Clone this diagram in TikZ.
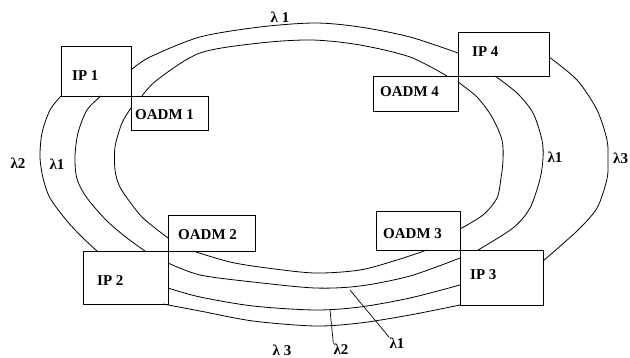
\documentclass[tikz,border=0pt]{standalone}
\usepackage{fontspec}
\setmainfont{Liberation Serif}
\usetikzlibrary{calc}
\begin{document}
\begin{tikzpicture}[x=1pt,y=-1pt,
  unit/.style={draw, line width=0.9pt, inner sep=0pt, outer sep=0pt},
  lbl/.style={font=\fontsize{15}{15}\selectfont\bfseries, inner sep=0pt},
  fibre/.style={line width=0.8pt},
  leader/.style={line width=0.7pt}]
  \fill[white] (0,0) rectangle (630,358);
  \useasboundingbox (0,0) rectangle (630,358);
  \begin{scope}
  \clip (0,0) rectangle (630,358);

  % IP routers and optical add/drop multiplexers
  \node[unit, minimum width=70pt, minimum height=50pt] (ip1) at (96,71) {};
  \node[unit, minimum width=77pt, minimum height=34pt] (oadm1) at (169.5,113) {};
  \node[unit, minimum width=91pt, minimum height=44pt] (ip4) at (503.5,54) {};
  \node[unit, minimum width=85pt, minimum height=35pt] (oadm4) at (415.5,93.5) {};
  \node[unit, minimum width=85pt, minimum height=53pt] (ip2) at (125.5,277.5) {};
  \node[unit, minimum width=87pt, minimum height=36pt] (oadm2) at (211.5,233) {};
  \node[unit, minimum width=84pt, minimum height=39pt] (oadm3) at (418,230.5) {};
  \node[unit, minimum width=83pt, minimum height=55pt] (ip3) at (501.5,277.5) {};

  \node[lbl, anchor=west] (t1) at (72,76) {IP 1};
  \node[lbl, anchor=west] (t2) at (135,115) {OADM 1};
  \node[lbl, anchor=west] (t3) at (472,51.5) {IP 4};
  \node[lbl, anchor=west] (t4) at (380,92) {OADM 4};
  \node[lbl, anchor=west] (t5) at (97,281) {IP 2};
  \node[lbl, anchor=west] (t6) at (178,235) {OADM 2};
  \node[lbl, anchor=west] (t7) at (383,234) {OADM 3};
  \node[lbl, anchor=west] (t8) at (470,275) {IP 3};

  % top span: IP 1 -- IP 4 and OADM 1 -- OADM 4
  \draw[fibre] plot[smooth] coordinates {($(ip1.north east)+(0,24)$) (150,57) (200,37) (260,27) (315,23) (360,27) (410,37) ($(ip4.north west)+(0,21)$)};
  \draw[fibre] plot[smooth] coordinates {($(oadm1.north west)+(11,0)$) (157,80) (200,53) (260,43) (312,40) (360,45) (410,57) ($(oadm4.north east)+(-11,0)$)};

  % left span: IP 1 / OADM 1 -- IP 2 / OADM 2
  \draw[fibre] plot[smooth] coordinates {(ip1.south west) (50,110) (42,133) (40,157) (43,178) (50,198) (67,221) (83,238) ($(ip2.north west)+(14,0)$)};
  \draw[fibre] plot[smooth] coordinates {($(ip1.south west)+(40,0)$) (87,110) (78,133) (75,157) (77,179) (87,198) (107,221) (127,238) ($(ip2.north west)+(62,0)$)};
  \draw[fibre] plot[smooth] coordinates {($(oadm1.north west)+(0,12)$) (122,123) (115,147) (115,170) (119,185) (127,198) (143,218) ($(oadm2.south west)+(0,-13)$)};

  % right span: IP 4 / OADM 4 -- IP 3 / OADM 3
  \draw[fibre] plot[smooth] coordinates {($(oadm4.north east)+(0,6)$) (477,97) (492,117) (502,140) (503,160) (501,178) (497,198) (483,215) ($(oadm3.north east)+(0,18)$)};
  \draw[fibre] plot[smooth] coordinates {($(ip4.south west)+(37,0)$) (517,93) (533,113) (542,140) (543,158) (540,179) (530,208) (513,228) ($(ip3.north west)+(18,0)$)};
  \draw[fibre] plot[smooth] coordinates {($(ip4.north east)+(0,25)$) (577,80) (597,110) (607,140) (608,160) (607,179) (597,208) (577,231) ($(ip3.north east)+(0,11)$)};

  % bottom span: IP 2 / OADM 2 -- IP 3 / OADM 3
  \draw[fibre] plot[smooth] coordinates {($(oadm2.south west)+(25,0)$) (230,262) (267,268) (315,273) (360,270) (397,260) ($(oadm3.south west)+(51,0)$)};
  \draw[fibre] plot[smooth] coordinates {($(ip2.north east)+(0,12)$) (200,275) (253,282) (315,288) (360,286) (410,276) ($(ip3.north west)+(0,8)$)};
  \draw[fibre] plot[smooth] coordinates {($(ip2.north east)+(0,37)$) (200,297) (253,306) (315,310) (360,307) (410,298) ($(ip3.north west)+(0,35)$)};
  \draw[fibre] plot[smooth] coordinates {($(ip2.south east)+(-5,0)$) (200,311) (253,321) (315,326) (360,323) (410,315) (ip3.south west)};

  % wavelength labels
  \node[lbl] (w1) at (280,17) {λ 1};
  \node[lbl] (w2) at (18,163) {λ2};
  \node[lbl] (w3) at (57,164) {λ1};
  \node[lbl] (w4) at (555,157) {λ1};
  \node[lbl, anchor=west] (w5) at (613,158) {λ3};
  \node[lbl] (w6) at (282,350) {λ 3};
  \node[lbl] (w7) at (341,349) {λ2};
  \node[lbl] (w8) at (397,343) {λ1};

  \coordinate (p2) at (330,310);
  \coordinate (p1) at (350,290);
  \draw[leader] (p2) -- (w7.north west);
  \draw[leader] (p1) -- (w8.north west);
  \end{scope}
\end{tikzpicture}
\end{document}
